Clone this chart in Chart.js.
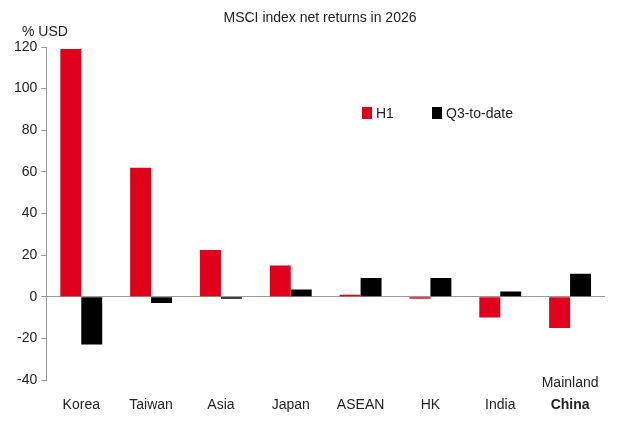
<!DOCTYPE html>
<html>
<head>
<meta charset="utf-8">
<script src="https://cdn.jsdelivr.net/npm/chart.js@4"></script>
<style>
  html, body { margin: 0; padding: 0; background: #fff; }
  #wrap { width: 619px; height: 432px; }
</style>
</head>
<body>
<div id="wrap"><canvas id="myChart" width="619" height="432"></canvas></div>
<script>
const categories = ['Korea', 'Taiwan', 'Asia', 'Japan', 'ASEAN', 'HK', 'India', ['Mainland', 'China']];
const h1Values = [119, 62, 22.5, 15, 1, -1, -10, -15];
const q3Values = [-23, -3, -1, 3.5, 9, 9, 2.5, 11];
const yTicks = [-40, -20, 0, 20, 40, 60, 80, 100, 120];

const FONT = 'Liberation Sans, Arial, sans-serif';

// x labels, title, unit and legend drawn by hand so "China" can be bold
const extras = {
    id: 'extras',
    afterDraw(chart) {
        const ctx = chart.ctx, x = chart.scales.x;
        ctx.save();
        ctx.fillStyle = '#222';
        ctx.textAlign = 'center';
        ctx.textBaseline = 'middle';
        categories.forEach((c, i) => {
            const px = x.getPixelForTick(i);
            if (Array.isArray(c)) {
                ctx.font = '14px ' + FONT;
                ctx.fillText(c[0], px, 383);
                ctx.font = 'bold 14px ' + FONT;
                ctx.fillText(c[1], px, 405);
            } else {
                ctx.font = '14px ' + FONT;
                ctx.fillText(c, px, 405);
            }
        });
        ctx.font = '14px ' + FONT;
        ctx.fillText('MSCI index net returns in 2026', 320, 18);
        ctx.textAlign = 'left';
        ctx.fillText('% USD', 22, 32);
        ctx.fillStyle = '#e0001b';
        ctx.fillRect(362, 107, 10, 12);
        ctx.fillStyle = '#000';
        ctx.fillRect(432, 107, 10, 12);
        ctx.fillStyle = '#222';
        ctx.fillText('H1', 376, 114);
        ctx.fillText('Q3-to-date', 446, 114);
        ctx.restore();
    }
};

new Chart(document.getElementById('myChart'), {
    type: 'bar',
    data: {
        labels: categories,
        datasets: [
            { label: 'H1', data: h1Values, backgroundColor: '#e0001b', barPercentage: 1, categoryPercentage: 0.6 },
            { label: 'Q3-to-date', data: q3Values, backgroundColor: '#000', barPercentage: 1, categoryPercentage: 0.6 },
        ],
    },
    options: {
        responsive: false,
        animation: false,
        layout: { padding: { top: 47, right: 14, bottom: 44, left: 10 } },
        plugins: {
            legend: { display: false },
            tooltip: { enabled: false },
        },
        scales: {
            x: {
                grid: { display: false },
                border: { display: false },
                ticks: { display: false },
            },
            y: {
                min: -40,
                max: 120,
                afterBuildTicks: (s) => { s.ticks = yTicks.map(v => ({ value: v })); },
                grid: {
                    color: (c) => c.tick && c.tick.value === 0 ? '#999' : 'transparent',
                    tickColor: '#999',
                    tickLength: 5,
                },
                border: { display: true, color: '#999' },
                ticks: { color: '#222', font: { family: FONT, size: 14 }, padding: 4 },
            },
        },
    },
    plugins: [extras],
});
</script>
</body>
</html>
